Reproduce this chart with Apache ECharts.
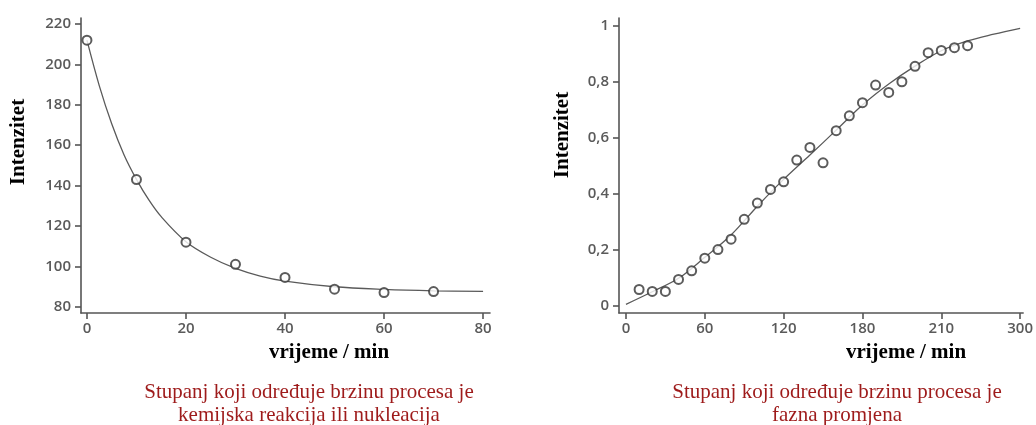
<!DOCTYPE html>
<html>
<head>
<meta charset="utf-8">
<script src="https://cdn.jsdelivr.net/npm/echarts@6/dist/echarts.min.js"></script>
<style>html,body{margin:0;padding:0;background:#fff}#c{width:1036px;height:425px}</style>
</head>
<body>
<div id="c"></div>
<script>
// ---- Left chart data (chemical reaction / nucleation) ----
const leftTime = [0, 10, 20, 30, 40, 50, 60, 70];
const leftIntensity = [212, 143, 112, 101, 94.5, 88.7, 87, 87.5];
const leftCurveTime = [0, 2.5, 5, 7.5, 10, 12.5, 15, 20, 25, 30, 35, 40, 50, 60, 70, 80];
const leftCurveIntensity = [212, 189.4, 170.6, 155.2, 143.1, 132.9, 124.6, 112.2, 104.5, 99.0, 95.2, 92.7, 89.9, 88.6, 87.9, 87.6];
const leftXTicks = [0, 20, 40, 60, 80];
const leftYTicks = [80, 100, 120, 140, 160, 180, 200, 220];

// ---- Right chart data (phase change) ----
const rightTime = [10, 20, 30, 40, 50, 60, 70, 80, 90, 100, 110, 120, 130, 140, 150, 160, 170, 180, 190, 200, 210, 220, 230, 240, 250, 260];
const rightIntensity = [0.058, 0.051, 0.051, 0.094, 0.125, 0.170, 0.201, 0.238, 0.309, 0.367, 0.416, 0.443, 0.521, 0.566, 0.511, 0.626, 0.679, 0.726, 0.789, 0.763, 0.801, 0.856, 0.905, 0.913, 0.923, 0.930];
const rightCurveTime = [0, 20, 40, 60, 80, 100, 120, 140, 160, 180, 200, 220, 240, 260, 280, 300];
const rightCurveIntensity = [0.005, 0.050, 0.098, 0.173, 0.253, 0.356, 0.452, 0.539, 0.628, 0.718, 0.793, 0.857, 0.912, 0.947, 0.971, 0.992];
const rightXTicks = [0, 60, 120, 180, 240, 300];
const rightXTickLabels = ['0', '60', '120', '180', '210', '300'];
const rightYTicks = [0, 0.2, 0.4, 0.6, 0.8, 1];
const rightYTickLabels = ['0', '0,2', '0,4', '0,6', '0,8', '1'];

// ---- Texts ----
const yTitle = 'Intenzitet';
const xTitle = 'vrijeme / min';
const leftCaption = ['Stupanj koji određuje brzinu procesa je', 'kemijska reakcija ili nukleacija'];
const rightCaption = ['Stupanj koji određuje brzinu procesa je', 'fazna promjena'];

const axisColor = '#555';
const labelStyle = { color: '#5a5a5a', fontFamily: 'Open Sans', fontWeight: 600, fontSize: 15 };
function axisBase() {
  return {
    type: 'value',
    splitLine: { show: false },
    axisLine: { show: true, onZero: false, lineStyle: { color: axisColor, width: 1.6 } },
    axisTick: { show: true, inside: false, length: 6, lineStyle: { color: axisColor, width: 1.6 } },
  };
}
const markerStyle = { color: '#fff', borderColor: '#333', borderWidth: 2 };
const curveStyle = { color: '#5a5a5a', width: 1.3 };

const chart = echarts.init(document.getElementById('c'), null, { renderer: 'canvas' });
const titleFont = 'bold 21px "Liberation Serif", "Times New Roman", serif';
const capFont = '21px "Liberation Serif", "Times New Roman", serif';
const capColor = '#9e1b1b';

function text(x, y, t, font, fill, rot) {
  return { type: 'text', x: x, y: y, rotation: rot || 0,
    style: { text: t, font: font, fill: fill, align: 'center', verticalAlign: 'middle' } };
}

chart.setOption({
  animation: false,
  backgroundColor: '#fff',
  grid: [
    { left: 81, top: 18, width: 409, height: 295 },
    { left: 619, top: 18, width: 407, height: 295 }
  ],
  xAxis: [
    Object.assign(axisBase(), {
      gridIndex: 0, min: -1.2, max: 81.4,
      axisTick: Object.assign(axisBase().axisTick, { customValues: leftXTicks }),
      axisLabel: Object.assign({ margin: 8, customValues: leftXTicks }, labelStyle)
    }),
    Object.assign(axisBase(), {
      gridIndex: 1, min: -5.3, max: 302.3,
      axisTick: Object.assign(axisBase().axisTick, { customValues: rightXTicks }),
      axisLabel: Object.assign({ margin: 8, customValues: rightXTicks,
        formatter: v => rightXTickLabels[rightXTicks.indexOf(v)] }, labelStyle)
    })
  ],
  yAxis: [
    Object.assign(axisBase(), {
      gridIndex: 0, min: 76.9, max: 223,
      axisTick: Object.assign(axisBase().axisTick, { customValues: leftYTicks }),
      axisLabel: Object.assign({ margin: 10, customValues: leftYTicks }, labelStyle)
    }),
    Object.assign(axisBase(), {
      gridIndex: 1, min: -0.026, max: 1.029,
      axisTick: Object.assign(axisBase().axisTick, { customValues: rightYTicks }),
      axisLabel: Object.assign({ margin: 10, customValues: rightYTicks,
        formatter: v => rightYTickLabels[rightYTicks.findIndex(t => Math.abs(t - v) < 1e-9)] }, labelStyle)
    })
  ],
  series: [
    { type: 'line', xAxisIndex: 0, yAxisIndex: 0, smooth: 0.35, showSymbol: false, silent: true,
      data: leftCurveTime.map((t, i) => [t, leftCurveIntensity[i]]), lineStyle: curveStyle, z: 2 },
    { type: 'scatter', xAxisIndex: 0, yAxisIndex: 0, symbol: 'circle', symbolSize: 9,
      data: leftTime.map((t, i) => [t, leftIntensity[i]]), itemStyle: markerStyle, z: 3 },
    { type: 'line', xAxisIndex: 1, yAxisIndex: 1, smooth: 0.35, showSymbol: false, silent: true,
      data: rightCurveTime.map((t, i) => [t, rightCurveIntensity[i]]), lineStyle: curveStyle, z: 2 },
    { type: 'scatter', xAxisIndex: 1, yAxisIndex: 1, symbol: 'circle', symbolSize: 9,
      data: rightTime.map((t, i) => [t, rightIntensity[i]]), itemStyle: markerStyle, z: 3 }
  ],
  graphic: [
    text(19, 142, yTitle, titleFont, '#000', Math.PI / 2),
    text(563, 135, yTitle, titleFont, '#000', Math.PI / 2),
    text(329, 353, xTitle, titleFont, '#000'),
    text(906, 353, xTitle, titleFont, '#000'),
    text(309, 392, leftCaption[0], capFont, capColor),
    text(309, 415, leftCaption[1], capFont, capColor),
    text(837, 392, rightCaption[0], capFont, capColor),
    text(837, 415, rightCaption[1], capFont, capColor)
  ]
});
</script>
</body>
</html>
